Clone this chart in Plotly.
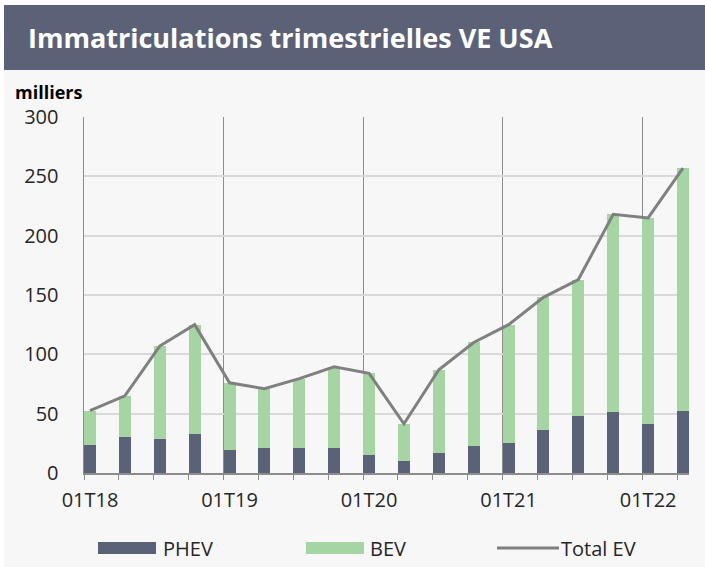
import plotly.graph_objects as go

quarters = ["Q1-18", "Q2-18", "Q3-18", "Q4-18", "Q1-19", "Q2-19", "Q3-19", "Q4-19",
            "Q1-20", "Q2-20", "Q3-20", "Q4-20", "Q1-21", "Q2-21", "Q3-21", "Q4-21",
            "Q1-22", "Q2-22"]
phev = [24, 30, 29, 33, 19.5, 21, 21, 21, 15, 10, 16.5, 22.5, 25.5, 36.5, 48, 51, 41.5, 52]
total_ev = [52.5, 65, 107, 125, 76, 71, 79.5, 89.5, 84, 41.5, 87, 110, 125, 148, 163, 218, 215, 257]
bev = [round(t - p, 1) for t, p in zip(total_ev, phev)]
tick_labels = ["01T18", "01T19", "01T20", "01T21", "01T22"]
tick_idx = [0, 4, 8, 12, 16]

FONT = "Open Sans"
C_PHEV = "#5a6278"
C_BEV = "#a6d5a4"
C_LINE = "#808080"
C_TXT = "#262626"

# plot area in pixels
L, R, T, B = 84, 689, 117, 473
W, H = 705, 567
def px(x):
    return (x - L) / (R - L)
def py(y):
    return (B - y) / (B - T)

BAR_W = 0.344
xpos = [i + BAR_W / 2 for i in range(len(quarters))]

fig = go.Figure()
fig.add_trace(go.Bar(x=xpos, y=phev, width=BAR_W, name="PHEV", marker_color=C_PHEV,
                     marker_line_width=0, showlegend=False))
fig.add_trace(go.Bar(x=xpos, y=bev, width=BAR_W, name="BEV", marker_color=C_BEV,
                     marker_line_width=0, showlegend=False))
fig.add_trace(go.Scatter(x=xpos, y=total_ev, mode="lines", name="Total EV",
                         line=dict(color=C_LINE, width=3), showlegend=False))

shapes = [
    dict(type="rect", xref="paper", yref="paper", x0=px(4), x1=px(W), y0=py(H), y1=py(5),
         fillcolor="#f7f7f7", line_width=0, layer="below"),
    dict(type="rect", xref="paper", yref="paper", x0=px(4), x1=px(W), y0=py(70), y1=py(5),
         fillcolor="#5b6278", line_width=0, layer="below"),
    # legend swatches
    dict(type="rect", xref="paper", yref="paper", x0=px(98), x1=px(156), y0=py(554), y1=py(542),
         fillcolor=C_PHEV, line_width=0),
    dict(type="rect", xref="paper", yref="paper", x0=px(306), x1=px(364), y0=py(554), y1=py(542),
         fillcolor=C_BEV, line_width=0),
    dict(type="line", xref="paper", yref="paper", x0=px(497), x1=px(559), y0=py(548), y1=py(548),
         line=dict(color=C_LINE, width=3)),
]

annotations = [
    dict(text="<b>Immatriculations trimestrielles VE USA</b>", xref="paper", yref="paper",
         x=px(26), y=py(38), xanchor="left", yanchor="middle", showarrow=False,
         font=dict(family=FONT, size=27, color="white")),
    dict(text="<b>milliers</b>", xref="paper", yref="paper",
         x=px(13), y=py(92), xanchor="left", yanchor="middle", showarrow=False,
         font=dict(family=FONT, size=18, color="black")),
    dict(text="PHEV", xref="paper", yref="paper", x=px(161), y=py(548), xanchor="left",
         yanchor="middle", showarrow=False, font=dict(family=FONT, size=20, color=C_TXT)),
    dict(text="BEV", xref="paper", yref="paper", x=px(368), y=py(548), xanchor="left",
         yanchor="middle", showarrow=False, font=dict(family=FONT, size=20, color=C_TXT)),
    dict(text="Total EV", xref="paper", yref="paper", x=px(559), y=py(548), xanchor="left",
         yanchor="middle", showarrow=False, font=dict(family=FONT, size=20, color=C_TXT)),
]

fig.update_layout(
    width=W, height=H,
    margin=dict(l=L, r=W - R, t=T, b=H - B, pad=0),
    paper_bgcolor="white", plot_bgcolor="rgba(0,0,0,0)",
    barmode="stack", bargap=0,
    showlegend=False,
    shapes=shapes, annotations=annotations,
    font=dict(family=FONT, size=20, color=C_TXT),
)
fig.update_xaxes(
    range=[0, len(quarters) - 1 + BAR_W],
    tickmode="array", tickvals=tick_idx, ticktext=tick_labels,
    ticklabelshift=6, ticklabelstandoff=3,
    ticks="outside", ticklen=5, tickcolor="#8c8c8c", tickwidth=1,
    showgrid=True, gridcolor="#8c8c8c", gridwidth=1,
    showline=True, linecolor="#8c8c8c", linewidth=1.5,
    minor=dict(tickmode="linear", tick0=0, dtick=1, ticks="outside", ticklen=5,
               tickcolor="#8c8c8c", showgrid=False),
    zeroline=False, fixedrange=True,
    tickfont=dict(family=FONT, size=20, color=C_TXT),
)
fig.update_yaxes(
    range=[0, 300], tickmode="linear", tick0=0, dtick=50,
    showgrid=True, gridcolor="#d9d9d9", gridwidth=2,
    showline=True, linecolor="#8c8c8c", linewidth=1.5,
    zeroline=False, ticks="", ticklabelstandoff=20, fixedrange=True,
    tickfont=dict(family=FONT, size=20, color=C_TXT),
)

fig.write_html("out.html", config={"displayModeBar": False, "staticPlot": True},
               post_script="document.body.style.margin='0';document.body.style.padding='0';")
